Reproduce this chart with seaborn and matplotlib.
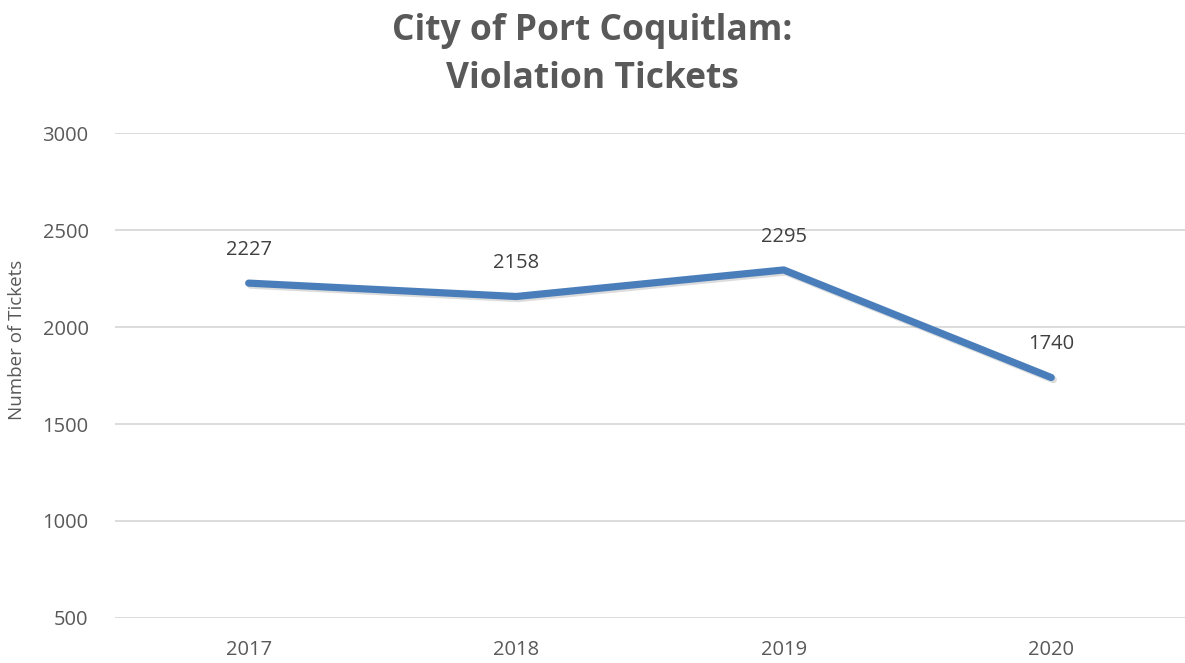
import pandas as pd
import seaborn as sns
import matplotlib.pyplot as plt
import matplotlib.patheffects as pe

# data
years = ['2017', '2018', '2019', '2020']
tickets = [2227, 2158, 2295, 1740]

df = pd.DataFrame({'Year': years, 'Tickets': tickets})

sns.set_theme(style='whitegrid')
plt.rcParams['font.family'] = ['Open Sans', 'DejaVu Sans']

fig = plt.figure(figsize=(11.85, 6.63), dpi=100)
ax = fig.add_axes([0.097, 0.068, 0.903, 0.731])

line_color = '#4a7ebb'
sns.lineplot(data=df, x='Year', y='Tickets', ax=ax, color=line_color,
             linewidth=5.2, solid_capstyle='round', solid_joinstyle='round',
             path_effects=[pe.SimpleLineShadow(offset=(1.5, -1.5), alpha=0.25, shadow_color='#777777'),
                           pe.Normal()])

# data labels above each point
for i, v in enumerate(tickets):
    ax.annotate(str(v), (i, v), xytext=(0, 24), textcoords='offset points',
                ha='center', va='center', fontsize=14.5, color='#404040')

ax.set_xlim(-0.5, 3.5)
ax.set_ylim(500, 3000)
ax.set_yticks([500, 1000, 1500, 2000, 2500, 3000])

ax.grid(axis='y', color='#d9d9d9', linewidth=1.3)
ax.grid(axis='x', visible=False)
for s in ax.spines.values():
    s.set_visible(False)

ax.tick_params(axis='both', length=0, labelsize=14.5, labelcolor='#595959')
ax.tick_params(axis='x', pad=16)
ax.tick_params(axis='y', pad=19)
ax.set_xlabel('')
ax.set_ylabel('Number of Tickets', fontsize=13.5, color='#595959')
ax.yaxis.set_label_coords(-0.083, 0.573)

fig.suptitle('City of Port Coquitlam:\nViolation Tickets', fontsize=25.5,
             fontweight='bold', color='#595959', y=0.98, linespacing=1.45)

fig.savefig('out.png', dpi=100)
